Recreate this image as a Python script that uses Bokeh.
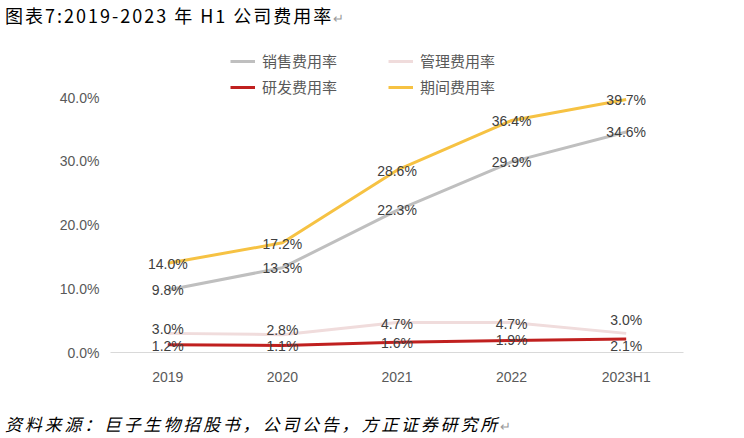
from bokeh.plotting import figure
from bokeh.models import (FactorRange, Range1d, FixedTicker, PrintfTickFormatter,
                          Legend, LegendItem, ColumnDataSource, Div, BoxAnnotation)
from bokeh.layouts import column
from bokeh.embed import file_html
from bokeh.resources import INLINE
from bokeh.core.properties import value

# ---- data ----
years = ["2019", "2020", "2021", "2022", "2023H1"]
sales = [9.8, 13.3, 22.3, 29.9, 34.6]
admin = [3.0, 2.8, 4.7, 4.7, 3.0]
rnd = [1.2, 1.1, 1.6, 1.9, 2.1]
period = [14.0, 17.2, 28.6, 36.4, 39.7]
series_names = ["销售费用率", "管理费用率", "研发费用率", "期间费用率"]
y_ticks = [0, 10, 20, 30, 40]
title_text = "图表7:2019-2023 年 H1 公司费用率"
source_text = "资料来源：巨子生物招股书，公司公告，方正证券研究所"

# label placement tweaks (screen px, style only)
sales_dy = [0, 0, 0, 0, 0]
admin_dy = [-4, -5, 1, 1, -13]
rnd_dy = [1, 1, 1, 0, 7]
period_dy = [1, 1, 1, 1, 1]

colors = ["#BFBFBF", "#F0DCDC", "#C0201F", "#F6C243"]

FONT = "Liberation Sans"
W = 736

p = figure(width=W, height=371, output_backend="svg", toolbar_location=None,
           x_range=FactorRange(*years, range_padding=0),
           y_range=Range1d(0, 48.0),
           min_border_left=110, min_border_right=53, min_border_top=5, min_border_bottom=60,
           margin=0)
p.outline_line_color = None
p.xgrid.grid_line_color = None
p.ygrid.grid_line_color = None
p.background_fill_color = "white"

p.yaxis.ticker = FixedTicker(ticks=y_ticks)
p.yaxis.formatter = PrintfTickFormatter(format="%.1f%%")
p.yaxis.axis_line_color = None
p.xaxis.axis_line_color = "#D9D9D9"
p.xaxis.axis_line_width = 1
for ax in (p.xaxis, p.yaxis):
    ax.major_tick_line_color = None
    ax.minor_tick_line_color = None
    ax.major_tick_in = 0
    ax.major_tick_out = 0
    ax.minor_tick_in = 0
    ax.minor_tick_out = 0
    ax.major_label_text_font = FONT
    ax.major_label_text_font_size = "14px"
    ax.major_label_text_color = "#595959"
p.yaxis.major_label_standoff = 11
p.xaxis.major_label_standoff = 16

all_vals = [sales, admin, rnd, period]
all_dy = [sales_dy, admin_dy, rnd_dy, period_dy]
renderers = []
for vals, col in zip(all_vals, colors):
    src = ColumnDataSource(dict(x=years, y=vals))
    r = p.line("x", "y", source=src, line_color=col, line_width=3)
    renderers.append(r)

for vals, dy in zip(all_vals, all_dy):
    src = ColumnDataSource(dict(x=years, y=vals, t=[f"{v:.1f}%" for v in vals], dy=dy))
    p.text("x", "y", text="t", source=src, y_offset="dy",
           text_align="center", text_baseline="middle",
           text_font=value(FONT), text_font_size="14px", text_color="#404040")

# legend is filled column by column: 销售, 研发 | 管理, 期间
legend_order = [0, 2, 1, 3]
legend = Legend(items=[LegendItem(label=series_names[i], renderers=[renderers[i]]) for i in legend_order],
                ncols=2, location=(120, 255), orientation="vertical",
                glyph_width=25, glyph_height=20, label_standoff=7, label_width=121,
                label_height=20, spacing=5, padding=0, margin=0,
                border_line_color=None, background_fill_alpha=0,
                label_text_font="Noto Sans CJK SC", label_text_font_size="15px",
                label_text_color="#595959")
p.add_layout(legend, "center")

# black rules above the chart and above the source line (screen px from frame bottom-left)
for top, bottom in ((311, 309), (-58, -60)):
    p.add_layout(BoxAnnotation(left=-107, right=626, top=top, bottom=bottom,
                               left_units="screen", right_units="screen",
                               top_units="screen", bottom_units="screen",
                               fill_color="#000000", fill_alpha=1.0, line_color=None,
                               level="overlay"))

mark = '<span style="color:#9a9a9a;font-size:13px;font-style:normal;letter-spacing:0">↵</span>'

title_html = (
    '<div style="margin:0 0 0 3px;padding:4px 0 0 2px;width:733px;height:41px;box-sizing:border-box;'
    'line-height:22px;white-space:nowrap;'
    'font-family:\'Noto Sans CJK SC\';font-size:18px;color:#000;letter-spacing:2px;">%s%s</div>'
    % (title_text, mark)
)
footer_html = (
    '<div style="margin:0 0 0 3px;padding:0 0 0 2px;width:733px;height:18px;box-sizing:border-box;'
    'line-height:24px;white-space:nowrap;overflow:visible;'
    'font-family:\'Noto Sans CJK SC\';font-size:17px;font-style:italic;color:#000;letter-spacing:2.8px;">%s%s</div>'
    % (source_text, mark)
)

title_div = Div(text=title_html, width=W, height=41, margin=0)
footer_div = Div(text=footer_html, width=W, height=18, margin=0)

layout = column(title_div, p, footer_div, spacing=0, margin=0)
open("out.html", "w").write(file_html(layout, INLINE))
